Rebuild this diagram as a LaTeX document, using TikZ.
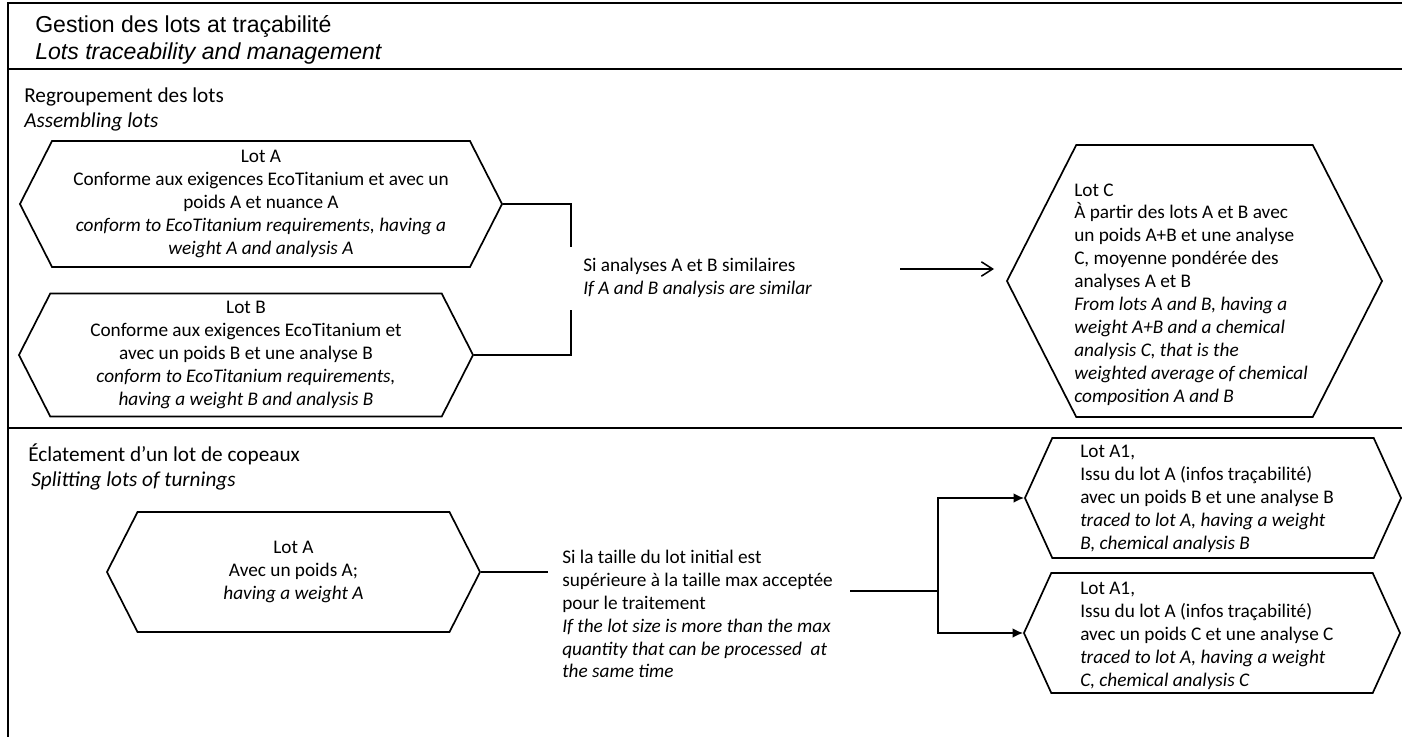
\documentclass[tikz,border=0pt]{standalone}
\usepackage{fontspec}
\setmainfont{Carlito}
\newfontfamily\gestfont{Liberation Sans}
\usepackage{tikz}
\usetikzlibrary{shapes.symbols, arrows.meta, positioning}

\newcommand\lotfont{\fontsize{13.7}{16.3}\selectfont}
\newcommand\secfont{\fontsize{15.1}{18}\selectfont}
\newcommand\topfont{\gestfont\fontsize{16.4}{19}\selectfont}

\tikzset{
  frame/.style={line width=1.4pt},
  link/.style={line width=1.1pt},
  lotbox/.style={draw, line width=1.2pt, shape=signal, signal to=west and east,
    signal pointer angle=126, inner sep=0pt, font=\lotfont},
  sectitle/.style={anchor=base west, inner sep=0pt, font=\secfont},
  cond/.style={anchor=west, inner sep=0pt, align=left, font=\lotfont},
}

\begin{document}
\begin{tikzpicture}[x=0.025cm, y=-0.025cm]
\useasboundingbox (0,0) rectangle (1402,737);
\clip (0,0) rectangle (1402,737);

% Frame and section rules
\draw[frame] (1420,3) -- (8,3) -- (8,760);
\draw[frame] (8,69) -- (1420,69);
\draw[frame] (8,428) -- (1420,428);

% Header
\node[anchor=base west, inner sep=0pt, font=\topfont] (title) at (35,32) {Gestion des lots at traçabilité};
\node[anchor=base west, inner sep=0pt, font=\topfont\itshape] (subtitle) at (35,59) {Lots traceability and management};

% Assembling lots
\node[sectitle] (assemble) at (24,102) {Regroupement des lots};
\node[sectitle, font=\secfont\itshape] (assembleEn) at (24,127) {Assembling lots};

\node[lotbox, minimum width=12.05cm, minimum height=3.15cm, align=center] (lotA) at (261,204) {Lot A\\
  Conforme aux exigences EcoTitanium et avec un\\
  poids A et nuance A\\
  \textit{conform to EcoTitanium requirements, having a}\\
  \textit{weight A and analysis A}};
\node[lotbox, minimum width=11.35cm, minimum height=3.075cm, align=center] (lotB) at (246,355) {Lot B\\
  Conforme aux exigences EcoTitanium et\\
  avec un poids B et une analyse B\\
  \textit{conform to EcoTitanium requirements,}\\
  \textit{having a weight B and analysis B}};

\coordinate (joinA) at (571,247);
\coordinate (joinB) at (571,310);
\draw[link] (lotA.east) -| (joinA);
\draw[link] (lotB.east) -| (joinB);

\node[cond] (similar) at (583,278) {Si analyses A et B similaires\\
  \textit{If A and B analysis are similar}};

\node[lotbox, minimum width=9.375cm, minimum height=6.8cm] (lotC) at (1194.5,281) {};
\node[cond] (lotCtext) at (1074,294.5) {Lot C\\
  À partir des lots A et B avec\\
  un poids A+B et une analyse\\
  C, moyenne pondérée des\\
  analyses A et B\\
  \textit{From lots A and B, having a}\\
  \textit{weight A+B and a chemical}\\
  \textit{analysis C, that is the}\\
  \textit{weighted average of chemical}\\
  \textit{composition A and B}};

\coordinate (mergeFrom) at (900,269);
\draw[link, -{Straight Barb[length=0.28cm, width=0.36cm]}, shorten >=0.3cm] (mergeFrom) -- (mergeFrom -| lotC.west);

% Splitting lots
\node[sectitle] (split) at (28,461) {Éclatement d’un lot de copeaux};
\node[sectitle, font=\secfont\itshape] (splitEn) at (31,486) {Splitting lots of turnings};

\node[lotbox, minimum width=9.325cm, minimum height=3cm, align=center] (lotAsplit) at (293.5,572) {Lot A\\
  Avec un poids A;\\
  \textit{having a weight A}};

\coordinate (splitIn) at (548,572);
\draw[link] (lotAsplit.east) -- (splitIn);

\node[cond] (oversize) at (562,614) {Si la taille du lot initial est\\
  supérieure à la taille max acceptée\\
  pour le traitement\\
  \textit{If the lot size is more than the max}\\
  \textit{quantity that can be processed\ \ at}\\
  \textit{the same time}};

\node[lotbox, signal pointer angle=131, minimum width=9.4cm, minimum height=3cm] (lotAone) at (1213,498) {};
\node[cond] (lotAoneText) at (1080,499) {Lot A1,\\
  Issu du lot A (infos traçabilité)\\
  avec un poids B et une analyse B\\
  \textit{traced to lot A, having a weight}\\
  \textit{B, chemical analysis B}};
\node[lotbox, signal pointer angle=131, minimum width=9.4cm, minimum height=3cm] (lotAtwo) at (1212,633) {};
\node[cond] (lotAtwoText) at (1080,636) {Lot A1,\\
  Issu du lot A (infos traçabilité)\\
  avec un poids C et une analyse C\\
  \textit{traced to lot A, having a weight}\\
  \textit{C, chemical analysis C}};

\coordinate (splitOut) at (850,591);
\coordinate (fork) at (938,591);
\draw[link] (splitOut) -- (fork);
\foreach \tgt in {lotAone, lotAtwo}
  \draw[link, -{Latex[length=0.26cm, width=0.24cm]}] (fork) |- (\tgt.west);
\end{tikzpicture}
\end{document}
